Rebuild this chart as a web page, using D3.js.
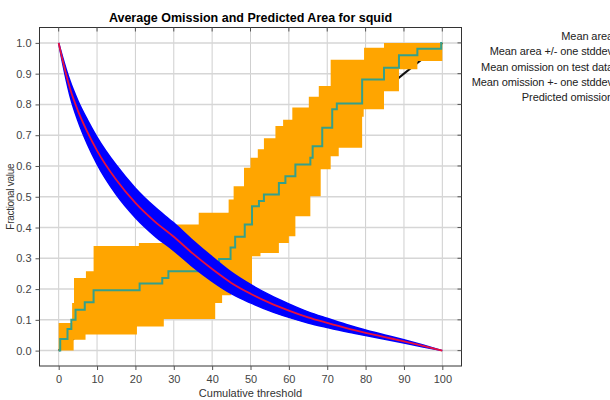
<!DOCTYPE html>
<html>
<head>
<meta charset="utf-8">
<script src="https://cdn.jsdelivr.net/npm/d3@7"></script>
<style>
    body { margin: 0; background: #fff; }
    text { font-family: "Liberation Sans", Arial, sans-serif; }
</style>
</head>
<body>
<div id="plot"></div>
<script>
let svgWidth = 610;
let svgHeight = 400;

let margin = { top: 27.5, right: 148.5, bottom: 34, left: 39.5 };

let chartWidth = svgWidth - margin.left - margin.right;
let chartHeight = svgHeight - margin.top - margin.bottom;

// Data
let xTicks = [0, 10, 20, 30, 40, 50, 60, 70, 80, 90, 100];
let yTicks = [0, 0.1, 0.2, 0.3, 0.4, 0.5, 0.6, 0.7, 0.8, 0.9, 1.0];

// mean area and its stddev
let areaT = [0, 1, 2, 3, 5, 7.5, 10, 15, 20, 25, 30, 35, 40, 45, 50, 55, 60, 65, 70, 75, 80, 85, 90, 95, 100];
let areaMean = [1.0, 0.945, 0.895, 0.85, 0.78, 0.71, 0.65, 0.555, 0.48, 0.42, 0.37, 0.315, 0.265, 0.22, 0.185, 0.155, 0.13, 0.108, 0.09, 0.073, 0.058, 0.044, 0.03, 0.015, 0];
let areaSd = [0, 0.01, 0.018, 0.025, 0.033, 0.04, 0.044, 0.048, 0.048, 0.047, 0.045, 0.043, 0.04, 0.035, 0.03, 0.026, 0.022, 0.018, 0.015, 0.012, 0.009, 0.007, 0.005, 0.003, 0];

// mean omission on test data (steps)
let omT = [0, 0.4, 2.3, 3.3, 4.4, 6.8, 9.1, 21.1, 27.0, 28.6, 38.0, 41.8, 44.8, 46.0, 48.5, 50.4, 52.2, 53.5, 57.4, 59.1, 61.7, 65.6, 66.2, 68.7, 71.3, 72.5, 79.1, 84.8, 88.7, 93.5, 99.7];
let omV = [0, 0.038, 0.07, 0.1, 0.133, 0.157, 0.196, 0.218, 0.236, 0.258, 0.276, 0.298, 0.335, 0.37, 0.41, 0.469, 0.486, 0.507, 0.545, 0.567, 0.605, 0.627, 0.664, 0.724, 0.784, 0.803, 0.881, 0.919, 0.96, 0.981, 1.0];

// mean omission +- one stddev (upper and lower steps)
let omUpT = [0, 3.5, 4.0, 7.1, 9.1, 20.9, 28.5, 36.5, 44.3, 45.6, 48.3, 50.0, 51.9, 53.5, 56.5, 58.5, 60.9, 65.2, 67.8, 70.9, 79.6, 84.8];
let omUpV = [0.09, 0.155, 0.236, 0.258, 0.34, 0.35, 0.41, 0.448, 0.491, 0.534, 0.594, 0.627, 0.654, 0.69, 0.73, 0.75, 0.79, 0.825, 0.86, 0.945, 0.984, 1.0];
let omLoT = [0, 3.9, 7.0, 20.4, 27.4, 40.8, 42.6, 45.0, 50.4, 52.6, 57.4, 60.0, 61.7, 65.6, 68.3, 70.9, 73.0, 79.1, 79.5, 84.8, 88.7, 93.5];
let omLoV = [0, 0.035, 0.052, 0.078, 0.103, 0.155, 0.18, 0.2, 0.307, 0.317, 0.35, 0.372, 0.437, 0.502, 0.589, 0.632, 0.659, 0.76, 0.784, 0.843, 0.914, 0.941];

// predicted omission
let predT = [0, 100];
let predV = [0, 1];

let legendLabels = ['Mean area', 'Mean area +/- one stddev', 'Mean omission on test data', 'Mean omission +- one stddev', 'Predicted omission'];

let $svg = d3.select('#plot')
    .append('svg')
    .attr('width', svgWidth)
    .attr('height', svgHeight);

let chartGroup = $svg.append('g')
    .attr('transform', `translate(${margin.left}, ${margin.top})`);

let xScale = d3.scaleLinear().domain([-5, 105]).range([0, chartWidth]);
let yScale = d3.scaleLinear().domain([-0.05, 1.05]).range([chartHeight, 0]);

// Gridlines
chartGroup.selectAll('.vgrid')
    .data(xTicks).enter()
    .append('line')
    .attr('x1', d => xScale(d)).attr('x2', d => xScale(d))
    .attr('y1', 0).attr('y2', chartHeight)
    .attr('stroke', '#cfcfcf').attr('stroke-width', 1);

chartGroup.selectAll('.hgrid')
    .data(yTicks).enter()
    .append('line')
    .attr('x1', 0).attr('x2', chartWidth)
    .attr('y1', d => yScale(d)).attr('y2', d => yScale(d))
    .attr('stroke', '#d6d6d6').attr('stroke-width', 1.5);

chartGroup.append('clipPath').attr('id', 'clip')
    .append('rect').attr('width', chartWidth).attr('height', chartHeight);

let plotLayer = chartGroup.append('g').attr('clip-path', 'url(#clip)');

function stepAt(ts, vs, t) {
    let v = vs[0];
    for (let i = 0; i < ts.length; i++) if (ts[i] <= t) v = vs[i];
    return v;
}

// predicted omission
plotLayer.append('path')
    .datum(predT.map((t, i) => ({ t: t, v: predV[i] })))
    .attr('d', d3.line().x(d => xScale(d.t)).y(d => yScale(d.v)))
    .attr('fill', 'none')
    .attr('stroke', '#111')
    .attr('stroke-width', 2);

// omission band
let bandT = Array.from(new Set(omUpT.concat(omLoT, [100]))).sort((a, b) => a - b);
let bandData = bandT.map(t => ({ t: t, hi: stepAt(omUpT, omUpV, t), lo: stepAt(omLoT, omLoV, t) }));

plotLayer.append('path')
    .datum(bandData)
    .attr('d', d3.area()
        .curve(d3.curveStepAfter)
        .x(d => xScale(d.t))
        .y0(d => yScale(d.lo))
        .y1(d => yScale(d.hi)))
    .attr('fill', '#ffa500');

// mean omission on test data
let omData = omT.map((t, i) => ({ t: t, v: omV[i] }));
omData.push({ t: 100, v: omV[omV.length - 1] });

plotLayer.append('path')
    .datum(omData)
    .attr('d', d3.line().curve(d3.curveStepAfter).x(d => xScale(d.t)).y(d => yScale(d.v)))
    .attr('fill', 'none')
    .attr('stroke', '#35a08a')
    .attr('stroke-width', 2);

// mean area band
let areaData = areaT.map((t, i) => ({ t: t, m: areaMean[i], sd: areaSd[i] }));

plotLayer.append('path')
    .datum(areaData)
    .attr('d', d3.area()
        .curve(d3.curveMonotoneX)
        .x(d => xScale(d.t))
        .y0(d => yScale(d.m - d.sd))
        .y1(d => yScale(d.m + d.sd)))
    .attr('fill', '#0000ff')
    .attr('stroke', '#0000ff')
    .attr('stroke-width', 1.5);

plotLayer.append('path')
    .datum(areaData)
    .attr('d', d3.line().curve(d3.curveMonotoneX).x(d => xScale(d.t)).y(d => yScale(d.m)))
    .attr('fill', 'none')
    .attr('stroke', '#e8103c')
    .attr('stroke-width', 1.8);

// Frame
chartGroup.append('rect')
    .attr('width', chartWidth).attr('height', chartHeight)
    .attr('fill', 'none').attr('stroke', '#333').attr('stroke-width', 1);

// Axes
let bottomAxis = d3.axisBottom(xScale).tickValues(xTicks).tickSize(4).tickPadding(5).tickFormat(d3.format('d'));
let leftAxis = d3.axisLeft(yScale).tickValues(yTicks).tickSize(4).tickPadding(4).tickFormat(d3.format('.1f'));

let xAxisG = chartGroup.append('g')
    .attr('transform', `translate(0, ${chartHeight})`)
    .call(bottomAxis);

let yAxisG = chartGroup.append('g')
    .call(leftAxis);

[xAxisG, yAxisG].forEach(g => {
    g.select('.domain').remove();
    g.selectAll('line').attr('stroke', '#555');
    g.selectAll('text').attr('fill', '#444').style('font-size', '11px');
});

// inner ticks on top and right
chartGroup.selectAll('.ttick')
    .data(xTicks).enter()
    .append('line')
    .attr('x1', d => xScale(d)).attr('x2', d => xScale(d))
    .attr('y1', 0).attr('y2', 4)
    .attr('stroke', '#555');

chartGroup.selectAll('.rtick')
    .data(yTicks).enter()
    .append('line')
    .attr('x1', chartWidth - 4).attr('x2', chartWidth)
    .attr('y1', d => yScale(d)).attr('y2', d => yScale(d))
    .attr('stroke', '#555');

// Labels
$svg.append('text')
    .attr('x', margin.left + chartWidth / 2)
    .attr('y', 22)
    .attr('text-anchor', 'middle')
    .style('font-size', '12.5px')
    .style('font-weight', 'bold')
    .text('Average Omission and Predicted Area for squid');

$svg.append('text')
    .attr('x', margin.left + chartWidth / 2)
    .attr('y', 397)
    .attr('text-anchor', 'middle')
    .attr('fill', '#333')
    .style('font-size', '11px')
    .text('Cumulative threshold');

$svg.append('text')
    .attr('transform', `translate(14, ${margin.top + chartHeight / 2}) rotate(-90)`)
    .attr('text-anchor', 'middle')
    .attr('fill', '#333')
    .style('font-size', '10px')
    .style('letter-spacing', '-0.3px')
    .text('Fractional value');

// Legend (cut off at the right edge)
$svg.selectAll('.legend')
    .data(legendLabels).enter()
    .append('text')
    .attr('x', 613)
    .attr('y', (d, i) => 40 + i * 15.3)
    .attr('text-anchor', 'end')
    .attr('fill', '#222')
    .style('font-size', '11px')
    .style('letter-spacing', '-0.1px')
    .text(d => d);
</script>
</body>
</html>
